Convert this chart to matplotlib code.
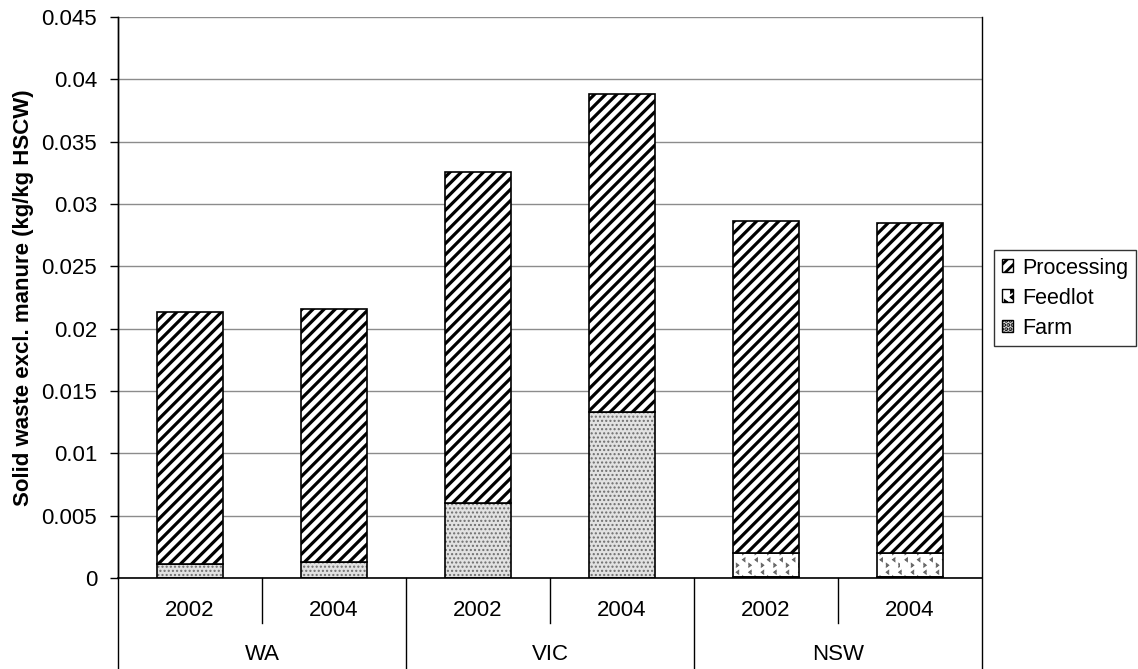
import matplotlib
matplotlib.use("Agg")
import matplotlib.pyplot as plt
import matplotlib.hatch as mhatch
from matplotlib.patches import Patch
from matplotlib.lines import Line2D
from matplotlib.path import Path
import numpy as np

plt.rcParams['font.family'] = ['Liberation Sans', 'DejaVu Sans']

regions = ["WA", "VIC", "NSW"]
years = ["2002", "2004"]
farm = [0.0011, 0.0013, 0.0060, 0.0133, 0.0001, 0.0001]
feedlot = [0.0, 0.0, 0.0, 0.0, 0.0019, 0.0019]
processing = [0.0202, 0.0203, 0.0266, 0.0255, 0.0266, 0.0265]
yticks = [0, 0.005, 0.01, 0.015, 0.02, 0.025, 0.03, 0.035, 0.04, 0.045]
ytick_labels = ["0", "0.005", "0.01", "0.015", "0.02", "0.025", "0.03", "0.035", "0.04", "0.045"]

FS = 16


def _chevron(cx, cy, direction):
    """Small filled chevron polygon ('<' when direction=1, '>' when -1)."""
    d = direction
    pts = [(cx + d * 0.08, cy + 0.12), (cx - d * 0.08, cy), (cx + d * 0.08, cy - 0.12),
           (cx + d * 0.08, cy - 0.055), (cx - d * 0.005, cy), (cx + d * 0.08, cy + 0.055),
           (0, 0)]
    codes = [Path.MOVETO] + [Path.LINETO] * 5 + [Path.CLOSEPOLY]
    return pts, codes


class ChevronHatch(mhatch.Shapes):
    """Texture of small alternating chevrons, used through the 'O' hatch code."""
    filled = True
    size = 1.0

    def __init__(self, hatch, density):
        self.num_rows = hatch.count('O') * 8
        p1, c1 = _chevron(0.0, 0.22, 1)
        p2, c2 = _chevron(0.5, -0.22, -1)
        self.shape_vertices = np.array(p1 + p2, dtype=float)
        self.shape_codes = np.array(c1 + c2, dtype=Path.code_type)
        super().__init__(hatch, density)


mhatch._hatch_types = [ChevronHatch if t is mhatch.LargeCircles else t
                       for t in mhatch._hatch_types]

W, H = 1138, 669
fig = plt.figure(figsize=(W / 100, H / 100), dpi=100)
ax_left, ax_right, ax_top, ax_bottom = 118, 982, 17, 578
ax = fig.add_axes([ax_left / W, 1 - ax_bottom / H,
                   (ax_right - ax_left) / W, (ax_bottom - ax_top) / H])

n = len(farm)
x = np.arange(n)
width = 0.465
farm_a = np.array(farm)
feed_a = np.array(feedlot)
proc_a = np.array(processing)

FARM_FACE, FARM_DOT = "#e2e2e2", "#6e6e6e"
FEED_MARK = "#6a6a6a"

# Farm: grey dotted fill
ax.bar(x, farm_a, width, color=FARM_FACE, edgecolor=FARM_DOT, hatch="....",
       linewidth=0, zorder=2)
ax.bar(x, farm_a, width, fill=False, edgecolor="black", linewidth=1.2, zorder=3)
# Feedlot: small chevrons on white
ax.bar(x, feed_a, width, bottom=farm_a, color="white", edgecolor=FEED_MARK,
       hatch="O", linewidth=0, zorder=2)
ax.bar(x, feed_a, width, bottom=farm_a, fill=False, edgecolor="black",
       linewidth=1.2, zorder=3)
# Processing: bold diagonal stripes
with plt.rc_context({'hatch.linewidth': 2.3}):
    ax.bar(x, proc_a, width, bottom=farm_a + feed_a, color="white",
           edgecolor="black", hatch="///", linewidth=1.2, zorder=3)

ax.set_xlim(-0.5, n - 0.5)
ax.set_ylim(0, 0.045)
ax.set_yticks(yticks)
ax.set_yticklabels(ytick_labels, fontsize=FS)
ax.tick_params(axis="y", length=6, width=1, direction="out", pad=9)
ax.set_xticks([])
ax.yaxis.grid(True, color="#8c8c8c", linewidth=1)
ax.set_axisbelow(True)
ax.spines["top"].set_visible(False)
ax.spines["right"].set_visible(False)
ax.spines["left"].set_linewidth(1)
ax.spines["bottom"].set_linewidth(1.2)

ax.set_ylabel("Solid waste excl. manure (kg/kg HSCW)", fontsize=FS,
              fontweight="bold")
ax.yaxis.set_label_coords((34 - ax_left) / (ax_right - ax_left), 0.5)

# Two-level category axis
trans = ax.get_xaxis_transform()
year_y = (610 - ax_bottom) / (ax_top - ax_bottom)
reg_y = (655 - ax_bottom) / (ax_top - ax_bottom)
inner_end = (623 - ax_bottom) / (ax_top - ax_bottom)
outer_end = (H - ax_bottom) / (ax_top - ax_bottom)
for i in range(n):
    ax.text(x[i], year_y, years[i % 2], transform=trans, ha="center",
            va="center", fontsize=FS)
for g, r in enumerate(regions):
    ax.text(2 * g + 0.5, reg_y, r, transform=trans, ha="center", va="center",
            fontsize=FS)
for b in np.arange(-0.5, n + 0.5, 1.0):
    k = int(round(b + 0.5))
    end = outer_end if k % 2 == 0 else inner_end
    top = 1 if k in (0, n) else 0
    ax.add_line(Line2D([b, b], [top, end], transform=trans, color="black",
                       lw=1, clip_on=False))

handles = [
    Patch(facecolor="white", edgecolor="black", hatch="///", label="Processing"),
    Patch(facecolor="white", edgecolor="black", hatch="O", label="Feedlot"),
    Patch(facecolor=FARM_FACE, edgecolor="black", hatch="....", label="Farm"),
]
with plt.rc_context({'hatch.linewidth': 2.0}):
    leg = fig.legend(handles=handles, loc="upper left",
                     bbox_to_anchor=(994 / W, 1 - 250 / H), frameon=True,
                     fancybox=False, edgecolor="black", fontsize=15.5,
                     handlelength=0.55, handleheight=0.55, handletextpad=0.4,
                     borderpad=0.35, labelspacing=0.42, borderaxespad=0)
leg.get_frame().set_linewidth(1)

fig.savefig("out.png", dpi=100)
